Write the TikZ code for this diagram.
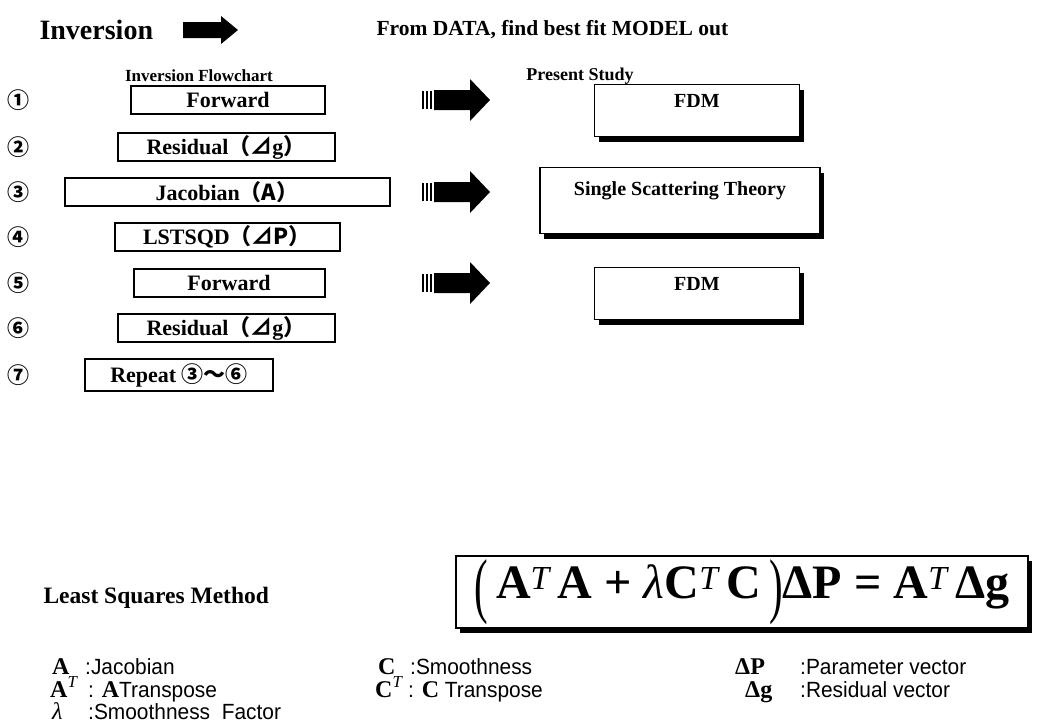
\documentclass[tikz,border=0pt]{standalone}
\usepackage{fontspec}
\usepackage{graphicx}
\setmainfont{Liberation Serif}
\setsansfont{Liberation Sans}
\newfontfamily\cjk{Noto Sans CJK JP}
\newfontfamily\narrow[FakeStretch=0.95]{Liberation Sans}
\usetikzlibrary{positioning,shadows}

\def\lpar{\raisebox{-.22em}{\scalebox{.85}[1.5]{\mdseries(}}\,}
\def\rpar{\,\raisebox{-.22em}{\scalebox{.85}[1.5]{\mdseries)}}}
\def\supT{\textsuperscript{\mdseries\itshape T}\,}

\tikzset{
  stepbox/.style={draw, line width=2pt, inner sep=0pt, minimum height=28pt, font=\fontsize{22}{24}\selectfont\bfseries},
  studybox/.style={draw, line width=1.4pt, fill=white, anchor=north, inner xsep=0pt, inner ysep=4pt, text height=19pt, text depth=25pt, font=\fontsize{20}{22}\selectfont\bfseries, drop shadow={shadow xshift=4pt, shadow yshift=-5pt, opacity=1, fill=black}},
  stepnum/.style={font=\cjk\fontsize{22}{24}\selectfont\bfseries},
  heading/.style={font=\fontsize{17}{19}\selectfont\bfseries},
  legsym/.style={anchor=base west, inner sep=0pt, font=\fontsize{24}{24}\selectfont\bfseries},
  legtxt/.style={anchor=base west, inner sep=0pt, font=\narrow\fontsize{22}{22}\selectfont},
  fatarrow/.pic={\fill (0,-8) -- (38,-8) -- (38,-14) -- (55,0) -- (38,14) -- (38,8) -- (0,8) -- cycle;},
  stripearrow/.pic={
    \foreach \sx in {0,4,8} \fill (\sx,-9) rectangle ++(2,18);
    \fill (12,-10) -- (48,-10) -- (48,-21) -- (68,0) -- (48,21) -- (48,10) -- (12,10) -- cycle;}
}

\begin{document}
\begin{tikzpicture}[x=1pt, y=-1pt]

	\useasboundingbox (0,0) rectangle (1038,724);

	% title
	\node[font=\fontsize{28}{30}\selectfont\bfseries, anchor=west] (inv) at (36,30) {Inversion};
	\pic (topArrow) at (183,30) {fatarrow};
	\node[font=\fontsize{21.5}{24}\selectfont\bfseries, anchor=west] (goal) at (373,30) {From DATA, find best fit MODEL out};

	\node[heading] (flowHead) at (199,76) {Inversion Flowchart};
	\node[heading, font=\fontsize{18}{20}\selectfont\bfseries] (studyHead) at (580,76) {Present Study};

	% steps
	\foreach \n/\y/\c in {1/100/①,2/147/②,3/192/③,4/237/④,5/283/⑤,6/328/⑥,7/375/⑦}
		\node[stepnum] (num\n) at (19,\y) {\c};

	\node[stepbox, minimum width=194pt] (fwdA) at (228,100) {Forward};
	\node[stepbox, minimum width=217pt] (resA) at (226,147) {Residual{\cjk（⊿}g{\cjk）}};
	\node[stepbox, minimum width=325pt] (jac) at (227,192) {Jacobian{\cjk（A）}};
	\node[stepbox, minimum width=225pt] (lsq) at (227,237) {LSTSQD{\cjk（⊿P）}};
	\node[stepbox, minimum width=191pt] (fwdB) at (229,283) {Forward};
	\node[stepbox, minimum width=217pt] (resB) at (226,328) {Residual{\cjk（⊿}g{\cjk）}};
	\node[stepbox, minimum width=188pt, minimum height=32pt] (rep) at (179,375) {Repeat\ {\cjk ③～⑥}};

	% present study
	\pic (arrA) at (422,100) {stripearrow};
	\node[studybox, minimum width=205pt] (fdmA) at (697,84) {FDM};
	\pic (arrB) at (422,192) {stripearrow};
	\node[studybox, minimum width=280pt, text height=24pt, text depth=34pt] (sst) at (680,167) {Single Scattering Theory};
	\pic (arrC) at (422,283) {stripearrow};
	\node[studybox, minimum width=205pt] (fdmB) at (697,267) {FDM};

	% least squares
	\node[font=\fontsize{23.5}{26}\selectfont\bfseries, anchor=west] (lsm) at (40,598) {Least Squares Method};
	\node[draw, line width=2pt, fill=white, minimum width=572pt, minimum height=72pt, drop shadow={shadow xshift=4pt, shadow yshift=-5pt, opacity=1, fill=black}, font=\fontsize{48}{52}\selectfont\bfseries] (eqn) at (742,592) {\lpar A\supT A + {\mdseries\itshape λ}C\supT C\rpar ΔP = A\supT Δg};

	% legend
	\node[legsym] (symA) at (52,674) {A};
	\node[legtxt] (txtA) at (85,674) {:Jacobian};
	\node[legsym] (symAT) at (50,697) {A\textsuperscript{\mdseries\itshape T}};
	\node[legtxt] (txtAT) at (88,697) {: {\rmfamily\bfseries\fontsize{24}{24}\selectfont A}Transpose};
	\node[legsym] (symL) at (52,719) {\mdseries\itshape λ};
	\node[legtxt] (txtL) at (88,719) {:Smoothness\ \ Factor};
	\node[legsym] (symC) at (378,674) {C};
	\node[legtxt] (txtC) at (410,674) {:Smoothness};
	\node[legsym] (symCT) at (375,697) {C\textsuperscript{\mdseries\itshape T}};
	\node[legtxt] (txtCT) at (408,697) {: {\rmfamily\bfseries\fontsize{24}{24}\selectfont C} Transpose};
	\node[legsym] (symP) at (735,674) {ΔP};
	\node[legtxt] (txtP) at (800,674) {:Parameter vector};
	\node[legsym] (symG) at (745,697) {Δg};
	\node[legtxt] (txtG) at (800,697) {:Residual vector};

\end{tikzpicture}
\end{document}
